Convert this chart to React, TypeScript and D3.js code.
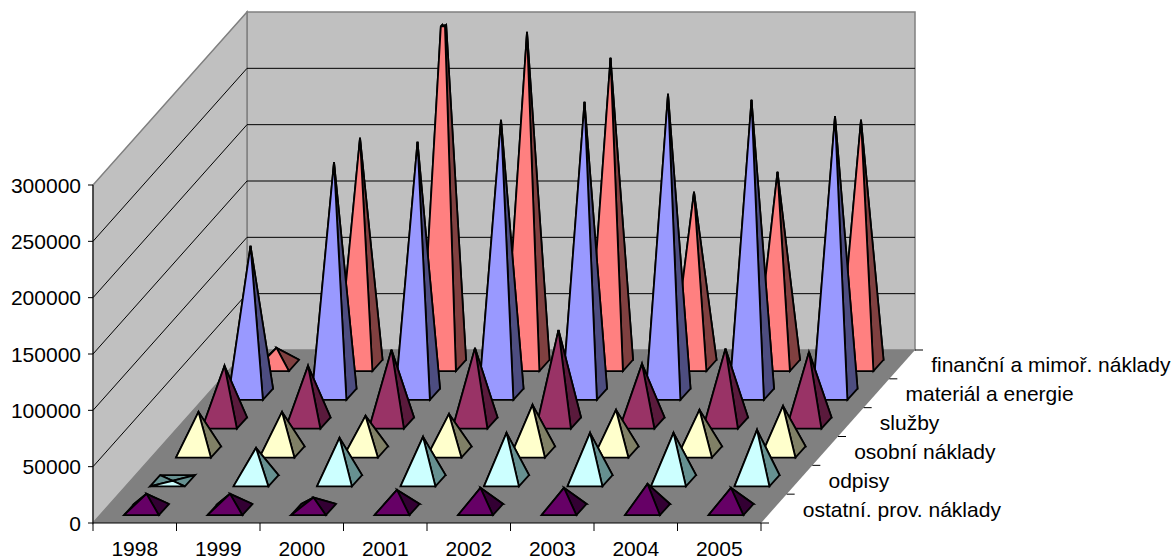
import React from "react";
import * as d3 from "d3";

const categories = ["1998", "1999", "2000", "2001", "2002", "2003", "2004", "2005"];
const seriesNames = ["ostatní. prov. náklady", "odpisy", "osobní náklady", "služby", "materiál a energie", "finanční a mimoř. náklady"];
const ostatni = [14000, 14000, 10700, 17500, 19300, 19300, 22800, 19300];
const odpisy = [0, 29200, 38100, 39000, 42500, 42500, 42500, 45200];
const osobni = [35500, 35500, 32000, 33700, 41700, 37300, 37300, 40800];
const sluzby = [50800, 50800, 65000, 66700, 82600, 52600, 66000, 63000];
const material = [131700, 206000, 224000, 243500, 259500, 266600, 261300, 247000];
const financni = [15600, 202000, 342000, 296000, 273000, 154000, 171800, 218000];
const allValues = [ostatni, odpisy, osobni, sluzby, material, financni];
const frontColors = ["#660066", "#ccffff", "#ffffcc", "#993366", "#9999ff", "#ff8080"];
const sideColors = ["#330033", "#669090", "#808066", "#5a1a3c", "#4d4d80", "#804040"];
const yTicks = [0, 50000, 100000, 150000, 200000, 250000, 300000];

const xS = d3.scaleLinear().domain([0, 8]).range([93, 761]);
const dX = d3.scaleLinear().domain([0, 6]).range([0, 154]);
const dXMark = d3.scaleLinear().domain([0, 6]).range([0, 156]);
const dY = d3.scaleLinear().domain([0, 6]).range([0, -173]);
const vS = d3.scaleLinear().domain([0, 300000]).range([523, 185]);
const vMax = 300000;
const vCap = 301500;

type P = [number, number];
const proj = (c: number, s: number, v: number): P => [xS(c) + dX(s), vS(v) + dY(s)];
const projMark = (c: number, s: number, v: number): P => [xS(c) + dXMark(s), vS(v) + dY(s)];
const line = d3.line<P>().x((d) => d[0]).y((d) => d[1]);
const closed = (pts: P[]) => line(pts) + "Z";
const lerp = (a: P, b: P, t: number): P => [a[0] + (b[0] - a[0]) * t, a[1] + (b[1] - a[1]) * t];

const LEFT = 0.287;
const RIGHT = 0.705;
const FRONT = 0.27;
const BACK = 0.66;

function Pyramid({ c, s, v }: { c: number; s: number; v: number }) {
  const fl = projMark(c + LEFT, s + FRONT, 0);
  const fr = projMark(c + RIGHT, s + FRONT, 0);
  const br = projMark(c + RIGHT, s + BACK, 0);
  const bl = projMark(c + LEFT, s + BACK, 0);
  const apex = projMark(c + (LEFT + RIGHT) / 2, s + (FRONT + BACK) / 2, v);
  const t = v > vCap ? vCap / v : 1;
  const face = (a: P, b: P) => (t < 1 ? closed([a, b, lerp(b, apex, t), lerp(a, apex, t)]) : closed([a, b, apex]));
  const st = { stroke: "#000", strokeWidth: 1.8, strokeLinejoin: "miter" as const };
  return (
    <g>
      <path d={face(bl, br)} fill={sideColors[s]} {...st} />
      <path d={face(fl, bl)} fill={sideColors[s]} {...st} />
      <path d={face(fr, br)} fill={sideColors[s]} {...st} />
      <path d={face(fl, fr)} fill={frontColors[s]} {...st} />
    </g>
  );
}

export default function App() {
  const font = { fontFamily: "'Liberation Sans', Arial, sans-serif", fontSize: 21, fill: "#000" };
  const fl = proj(0, 0, 0);
  const fr = proj(8, 0, 0);
  const br = proj(8, 6, 0);
  const bl = proj(0, 6, 0);
  const blt = proj(0, 6, vMax);
  const brt = proj(8, 6, vMax);
  const flt = proj(0, 0, vMax);
  return (
    <svg width={1173} height={560} style={{ position: "absolute", left: 0, top: 0, background: "#fff" }}>
      <path d={closed([bl, br, brt, blt])} fill="#c0c0c0" stroke="#808080" strokeWidth={1.5} />
      <path d={closed([fl, bl, blt, flt])} fill="#c0c0c0" stroke="#808080" strokeWidth={1.5} />
      <path d={closed([fl, fr, br, bl])} fill="#808080" />
      {yTicks.slice(1, -1).map((t) => (
        <g key={t}>
          <path d={line([proj(0, 0, t), proj(0, 6, t), proj(8, 6, t)])!} fill="none" stroke="#000" strokeWidth={1} />
        </g>
      ))}
      <path d={line([flt, fl, fr])!} fill="none" stroke="#000" strokeWidth={1} />
      {yTicks.map((t) => (
        <g key={t}>
          <line x1={88} x2={93} y1={vS(t)} y2={vS(t)} stroke="#000" />
          <text x={81} y={vS(t) + 7.5} textAnchor="end" {...font}>{t}</text>
        </g>
      ))}
      {d3.range(9).map((c) => (
        <line key={c} x1={xS(c)} x2={xS(c)} y1={523} y2={531} stroke="#000" />
      ))}
      {categories.map((name, c) => (
        <text key={name} x={xS(c + 0.5)} y={555.5} textAnchor="middle" {...font}>{name}</text>
      ))}
      {d3.range(7).map((s) => {
        const p = proj(8, s, 0);
        return <line key={s} x1={p[0]} x2={p[0] + 8} y1={p[1]} y2={p[1]} stroke="#000" />;
      })}
      {seriesNames.map((name, s) => {
        const p = proj(8, s + 0.5, 0);
        return (
          <text key={name} x={p[0] + 29} y={p[1] + 8} {...font}>{name}</text>
        );
      })}
      {d3.range(5, -1, -1).map((s) =>
        categories.map((_, c) => <Pyramid key={s + "-" + c} c={c} s={s} v={allValues[s][c]} />)
      )}
    </svg>
  );
}
